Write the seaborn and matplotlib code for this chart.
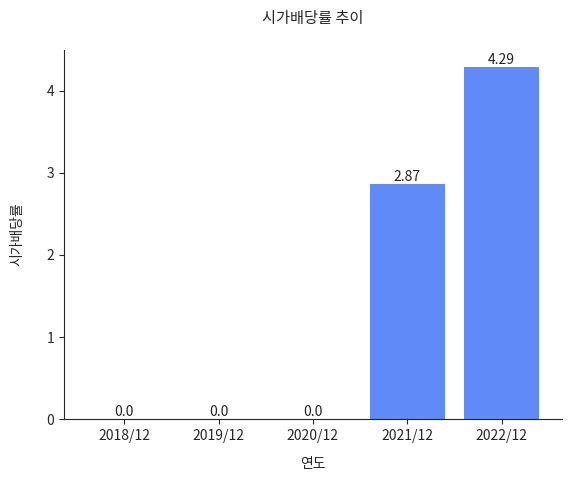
import matplotlib
matplotlib.use("Agg")
import matplotlib.pyplot as plt
import seaborn as sns
import pandas as pd

years = ["2018/12", "2019/12", "2020/12", "2021/12", "2022/12"]
values = [0.0, 0.0, 0.0, 2.87, 4.29]

sns.set_style("ticks")
plt.rcParams['font.family'] = ['Noto Sans CJK KR', 'DejaVu Sans']

df = pd.DataFrame({"연도": years, "시가배당률": values})

fig = plt.figure(figsize=(5.7, 4.79), dpi=100)
ax = fig.add_axes([0.112, 0.125, 0.874, 0.771])
sns.barplot(data=df, x="연도", y="시가배당률", color="#5F8AF7", saturation=1,
            width=0.8, linewidth=0, edgecolor="none", ax=ax)
ax.set_xlim(-0.64, 4.64)
ax.set_ylim(0, 4.5)
for cont in ax.containers:
    ax.bar_label(cont, labels=[str(v) for v in values], fontsize=10, padding=0, color="#222222")
ax.set_title("시가배당률 추이", fontsize=11, pad=19)
ax.set_xlabel("연도", fontsize=10, labelpad=10)
ax.set_ylabel("시가배당률", fontsize=10, labelpad=16)
ax.tick_params(labelsize=10)
ax.set_yticks([0, 1, 2, 3, 4])
sns.despine(ax=ax)
fig.savefig("out.png", dpi=100)
